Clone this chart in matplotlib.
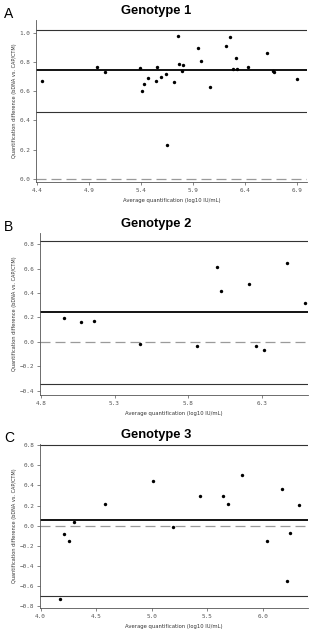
import matplotlib
matplotlib.use("Agg")
import matplotlib.pyplot as plt

# ── Data ──────────────────────────────────────────────────────────────────────
g1_x = [4.445, 4.98, 5.055, 5.388, 5.41, 5.433, 5.465, 5.545, 5.554, 5.589,
        5.640, 5.653, 5.72, 5.752, 5.768, 5.79, 5.80, 5.944, 5.976, 6.062,
        6.216, 6.254, 6.283, 6.318, 6.325, 6.424, 6.609, 6.673, 6.683, 6.897]
g1_y = [0.671, 0.770, 0.733, 0.759, 0.605, 0.653, 0.690, 0.669, 0.770, 0.701,
        0.720, 0.230, 0.662, 0.982, 0.791, 0.738, 0.784, 0.901, 0.811, 0.632,
        0.910, 0.972, 0.752, 0.832, 0.752, 0.768, 0.860, 0.738, 0.731, 0.683]
g1_lines = [1.023, 0.745, 0.459]   # upper LoA, mean, lower LoA

g2_x = [4.958, 5.075, 5.161, 5.474, 5.858, 5.995, 6.020, 6.212, 6.257, 6.311,
        6.467, 6.591]
g2_y = [0.196, 0.166, 0.175, -0.014, -0.035, 0.611, 0.417, 0.474, -0.035,
        -0.065, 0.649, 0.319]
g2_lines = [0.821, 0.243, -0.344]

g3_x = [4.177, 4.213, 4.255, 4.303, 4.576, 5.016, 5.196, 5.433, 5.640, 5.691,
        5.814, 6.036, 6.171, 6.216, 6.246, 6.324]
g3_y = [-0.727, -0.08, -0.153, 0.033, 0.213, 0.443, -0.013, 0.297, 0.297,
        0.213, 0.503, -0.153, 0.363, -0.547, -0.073, 0.207]
g3_lines = [0.803, 0.057, -0.697]

titles = ["Genotype 1", "Genotype 2", "Genotype 3"]
letters = ["A", "B", "C"]
xticks = [[4.4, 4.9, 5.4, 5.9, 6.4, 6.9],
          [4.8, 5.3, 5.8, 6.3],
          [4.0, 4.5, 5.0, 5.5, 6.0]]
yticks = [[0.0, 0.2, 0.4, 0.6, 0.8, 1.0],
          [-0.4, -0.2, 0.0, 0.2, 0.4, 0.6, 0.8],
          [-0.8, -0.6, -0.4, -0.2, 0.0, 0.2, 0.4, 0.6, 0.8]]
xlims = [(4.39, 6.996), (4.795, 6.611), (3.994, 6.408)]
ylims = [(-0.023, 1.09), (-0.433, 0.89), (-0.82, 0.813)]

YLABEL = "Quantification difference (bDNA vs. CAP/CTM)"
XLABEL = "Average quantification (log10 IU/mL)"

W, H = 315, 631
# axes boxes in pixels: left, right, top, bottom
boxes = [(36, 307, 20, 182), (40, 308, 233, 395), (40, 308, 444, 608)]

fig = plt.figure(figsize=(W / 100, H / 100), dpi=100)
fig.patch.set_facecolor("white")

data = [(g1_x, g1_y, g1_lines), (g2_x, g2_y, g2_lines), (g3_x, g3_y, g3_lines)]

for i, (xs, ys, lines) in enumerate(data):
    l, r, t, b = boxes[i]
    ax = fig.add_axes([l / W, 1 - b / H, (r - l) / W, (b - t) / H])
    ax.set_xlim(*xlims[i])
    ax.set_ylim(*ylims[i])

    ax.axhline(0, color="#9a9a9a", lw=0.9, ls=(0, (8, 4)), zorder=1)
    ax.axhline(lines[0], color="#333333", lw=0.8, zorder=2)
    ax.axhline(lines[1], color="black", lw=1.3, zorder=2)
    ax.axhline(lines[2], color="#333333", lw=0.8, zorder=2)
    ax.scatter(xs, ys, s=6, color="black", zorder=3, linewidths=0)

    for s in ["top", "right"]:
        ax.spines[s].set_visible(False)
    for s in ["left", "bottom"]:
        ax.spines[s].set_color("#555555")
        ax.spines[s].set_linewidth(0.6)

    ax.set_xticks(xticks[i])
    ax.set_yticks(yticks[i])
    ax.set_xticklabels([f"{v:.1f}" for v in xticks[i]])
    ax.set_yticklabels([f"{v:.1f}".replace("-", "\u2212") for v in yticks[i]])
    ax.tick_params(direction="out", length=2.5, width=0.5, colors="#555555",
                   labelsize=4.3, pad=1.5)
    for lab in ax.get_xticklabels() + ax.get_yticklabels():
        lab.set_family("DejaVu Sans Mono")

    ax.set_ylabel(YLABEL, fontsize=3.6, color="#333333", labelpad=2)
    ax.set_xlabel(XLABEL, fontsize=3.8, color="#333333", labelpad=4)

    fig.text(156 / W, 1 - (t - 9) / H, titles[i], ha="center", va="center",
             fontsize=9.3, fontweight="bold", family="Liberation Sans")
    fig.text(4 / W, 1 - (t - 6) / H, letters[i], ha="left", va="center",
             fontsize=10, family="Liberation Sans")

fig.savefig("out.png", dpi=100, facecolor="white")
